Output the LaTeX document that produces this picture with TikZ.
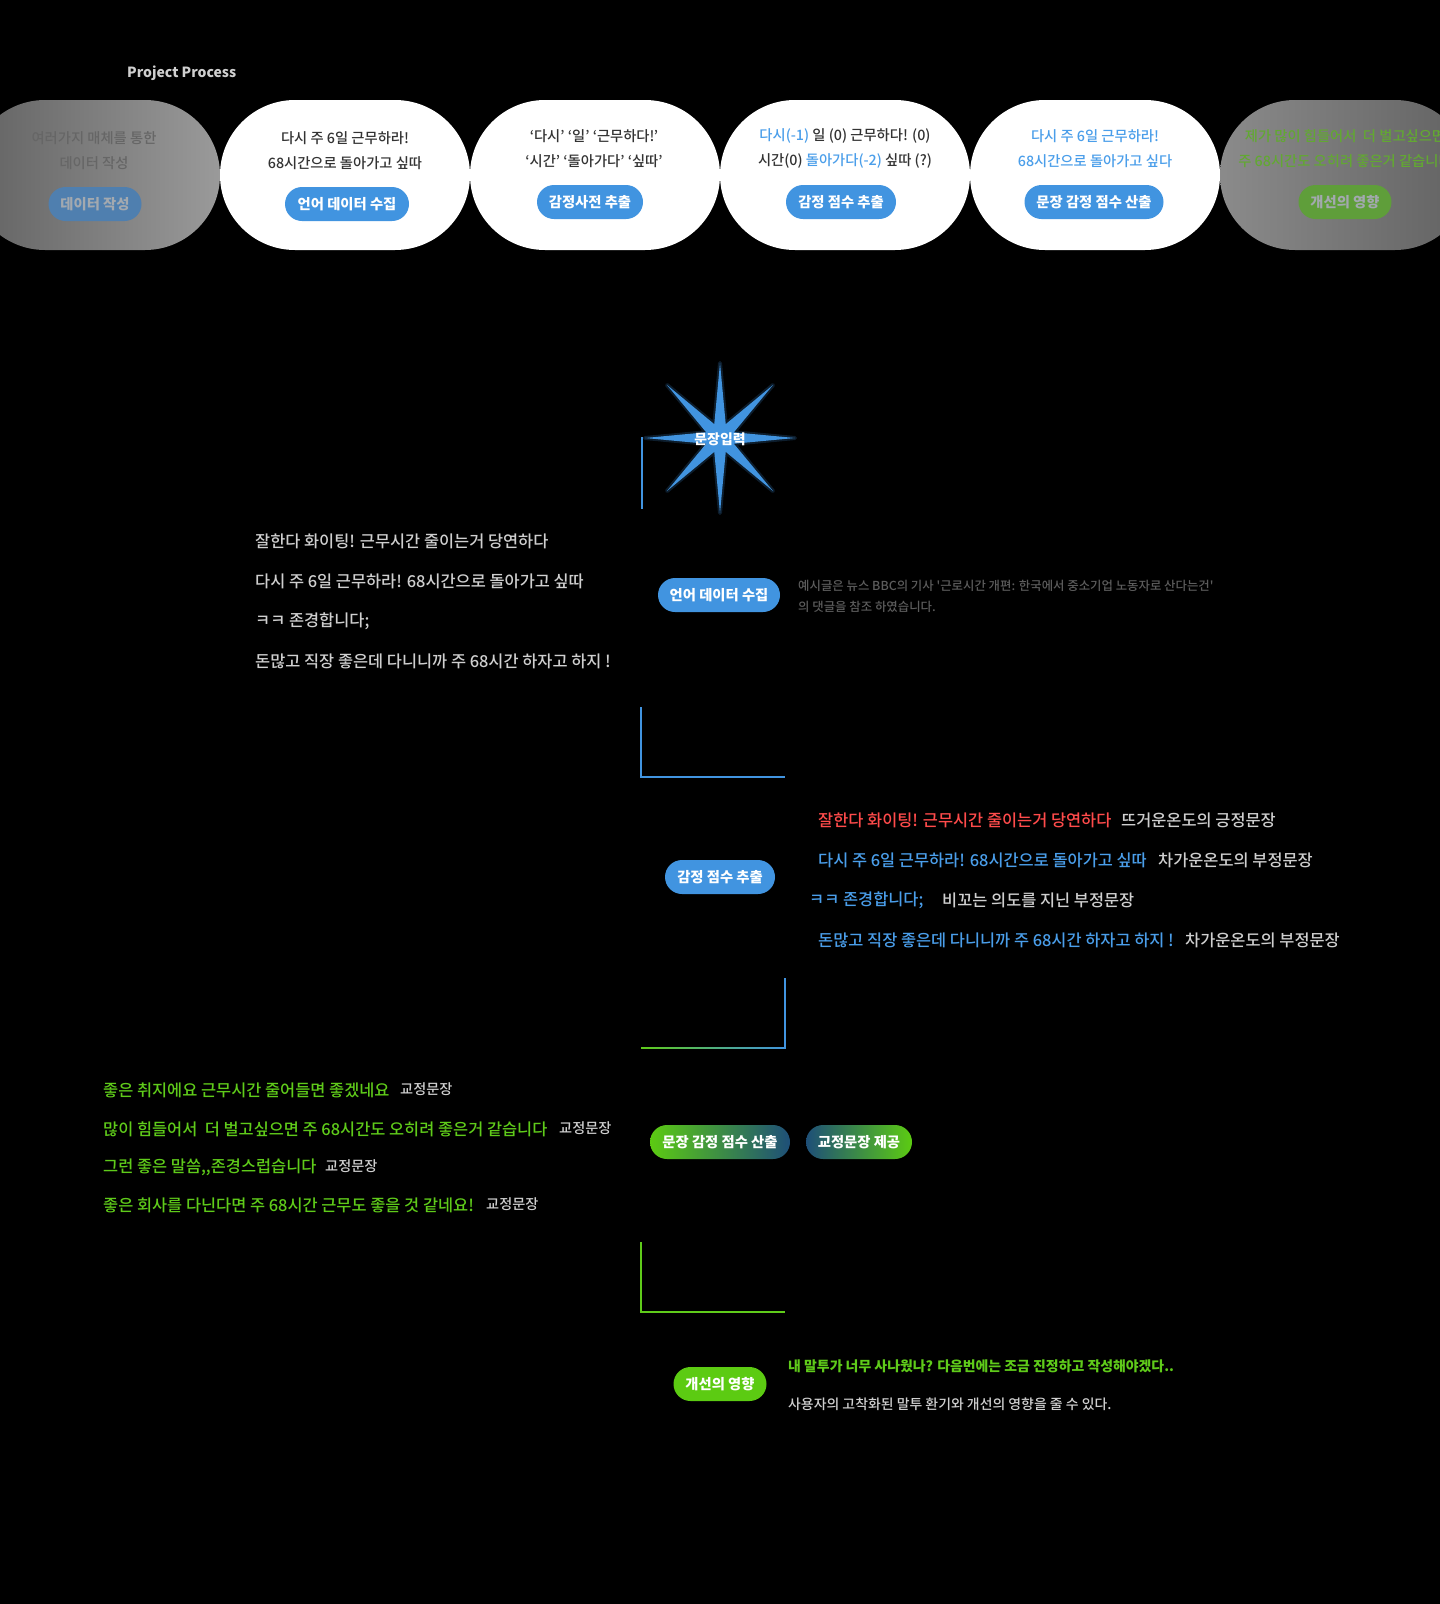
\documentclass[tikz,border=0pt]{standalone}
\usepackage{fontspec}
\setmainfont{Noto Sans CJK KR}
\newfontfamily\mediumfont{Noto Sans CJK KR Medium}
\usetikzlibrary{shapes.geometric}

\definecolor{btnblue}{HTML}{4194E0}
\definecolor{txtblue}{HTML}{4A9EEA}
\definecolor{txtred}{HTML}{FF4B4B}
\definecolor{txtgreen}{HTML}{5FCB1A}
\definecolor{btngreen}{HTML}{5CCB12}
\definecolor{navyend}{HTML}{1E4F78}
\definecolor{softgray}{HTML}{CFCFCF}
\definecolor{notegray}{HTML}{5C5C5C}
\definecolor{darktxt}{HTML}{333333}
\definecolor{fadeA}{HTML}{626262}
\definecolor{fadeB}{HTML}{9A9A9A}
\definecolor{fadetxt}{HTML}{666666}
\definecolor{fadeblue}{HTML}{4F7FAF}
\definecolor{fadegreen}{HTML}{5F9E3A}
\definecolor{fadegreentxt}{HTML}{62A832}
\definecolor{fadebtntxt}{HTML}{A3A9AF}

\begin{document}
\begin{tikzpicture}[x=1pt,y=1pt,yscale=-1,
  pill/.style={rounded corners=75pt, minimum width=250pt, minimum height=150pt, inner sep=0pt},
  btn/.style={rounded corners=17pt, minimum height=34pt, inner sep=0pt, text=white, font=\bfseries\fontsize{14.3}{16}\selectfont},
  pilltext/.style={inner sep=0pt, text=darktxt, font=\mediumfont\fontsize{14.3}{16}\selectfont},
  body/.style={anchor=west, inner sep=0pt, font=\mediumfont\fontsize{16.4}{19}\selectfont},
  tagtext/.style={anchor=west, inner sep=0pt, text=softgray, font=\mediumfont\fontsize{16.4}{19}\selectfont},
  flowline/.style={line width=1.5pt}
]
\useasboundingbox (0,0) rectangle (1440,1604);
\fill[black] (0,0) rectangle (1440,1604);
\clip (0,0) rectangle (1440,1604);

% Title
\node[anchor=west, inner sep=0pt, text=softgray, font=\bfseries\fontsize{14}{16}\selectfont] (title) at (127,73) {Project Process};

%Shape: Pills (process row)
\node[pill, left color=fadeA, right color=fadeB] (source) at (95,175) {};
\node[pill, fill=white] (collect) at (345,175) {};
\node[pill, fill=white] (dict) at (595,175) {};
\node[pill, fill=white] (score) at (845,175) {};
\node[pill, fill=white] (total) at (1095,175) {};
\node[pill, left color=fadeB!90!black, right color=fadeA] (impact) at (1345,175) {};

% Text Node
\node[pilltext, text=fadetxt] (source1) at (94,138) {여러가지 매체를 통한};
\node[pilltext, text=fadetxt] (source2) at (94,163) {데이터 작성};
\node[btn, fill=fadeblue, text=fadebtntxt, minimum width=93pt] (sourcebtn) at (95,204) {데이터 작성};
% Text Node
\node[pilltext] (collect1) at (345,138) {다시 주 6일 근무하라!};
\node[pilltext] (collect2) at (345,163) {68시간으로 돌아가고 싶따};
\node[btn, fill=btnblue, minimum width=124pt] (collectbtn) at (347,204) {언어 데이터 수집};
% Text Node
\node[pilltext] (dict1) at (594,136) {‘다시’ ‘일’ ‘근무하다!’};
\node[pilltext] (dict2) at (594,161) {‘시간’ ‘돌아가다’ ‘싶따’};
\node[btn, fill=btnblue, minimum width=106pt] (dictbtn) at (590,202) {감정사전 추출};
% Text Node
\node[pilltext] (score1) at (845,136) {\textcolor{txtblue}{다시(-1)} 일 (0) 근무하다! (0)};
\node[pilltext] (score2) at (845,161) {시간(0) \textcolor{txtblue}{돌아가다(-2)} 싶따 (?)};
\node[btn, fill=btnblue, minimum width=110pt] (scorebtn) at (841,202) {감정 점수 추출};
% Text Node
\node[pilltext, text=txtblue] (total1) at (1095,136) {다시 주 6일 근무하라!};
\node[pilltext, text=txtblue] (total2) at (1095,161) {68시간으로 돌아가고 싶다};
\node[btn, fill=btnblue, minimum width=139pt] (totalbtn) at (1094,202) {문장 감정 점수 산출};
% Text Node
\node[pilltext, text=fadegreentxt] (impact1) at (1345,136) {제가 많이 힘들어서~ 더 벌고싶으면};
\node[pilltext, text=fadegreentxt] (impact2) at (1345,161) {주 68시간도 오히려 좋은거 같습니다};
\node[btn, fill=fadegreen, text=fadebtntxt, minimum width=93pt] (impactbtn) at (1345,202) {개선의 영향};

%Shape: Star
\node[star, star points=8, star point ratio=5, minimum size=150pt, inner sep=0pt, fill=btnblue,
  preaction={draw=btnblue, line width=4pt, line join=round, draw opacity=0.2}] (input) at (720,438) {};
\node[inner sep=0pt, text=white, font=\bfseries\fontsize{13.9}{15}\selectfont] (inputlabel) at (720,439) {문장입력};
\coordinate (l1end) at (642,509);
\draw[flowline, btnblue] (input.west) -| (l1end);

% Text Node
\node[body, text=softgray] (s1) at (255,541) {잘한다 화이팅! 근무시간 줄이는거 당연하다};
\node[body, text=softgray] (s2) at (255,581) {다시 주 6일 근무하라! 68시간으로 돌아가고 싶따};
\node[body, text=softgray] (s3) at (255,621) {ㅋㅋ 존경합니다;};
\node[body, text=softgray] (s4) at (255,661) {돈많고 직장 좋은데 다니니까 주 68시간 하자고 하지 !};
\node[btn, fill=btnblue, minimum width=122pt] (collectstep) at (719,595) {언어 데이터 수집};
\node[anchor=west, inner sep=0pt, text=notegray, font=\mediumfont\fontsize{12.4}{14}\selectfont] (note1) at (798,586) {예시글은 뉴스 BBC의 기사 '근로시간 개편: 한국에서 중소기업 노동자로 산다는건'};
\node[anchor=west, inner sep=0pt, text=notegray, font=\mediumfont\fontsize{12.4}{14}\selectfont] (note2) at (798,607) {의 댓글을 참조 하였습니다.};

%Straight Lines
\coordinate (l2a) at (641,707);
\coordinate (l2c) at (785,777);
\draw[flowline, btnblue] (l2a) |- (l2c);

% Text Node
\node[btn, fill=btnblue, minimum width=110pt] (scorestep) at (720,877) {감정 점수 추출};
\node[body, text=txtred] (r1) at (818,820) {잘한다 화이팅! 근무시간 줄이는거 당연하다};
\node[tagtext] (r1tag) at (1121,820) {뜨거운온도의 긍정문장};
\node[body, text=txtblue] (r2) at (818,860) {다시 주 6일 근무하라! 68시간으로 돌아가고 싶따};
\node[tagtext] (r2tag) at (1158,860) {차가운온도의 부정문장};
\node[body, text=txtblue] (r3) at (809,900) {ㅋㅋ 존경합니다;};
\node[tagtext] (r3tag) at (942,900) {비꼬는 의도를 지닌 부정문장};
\node[body, text=txtblue] (r4) at (818,940) {돈많고 직장 좋은데 다니니까 주 68시간 하자고 하지 !};
\node[tagtext] (r4tag) at (1185,940) {차가운온도의 부정문장};

%Straight Lines
\coordinate (l3a) at (785,978);
\coordinate (l3b) at (785,1048);
\draw[flowline, btnblue] (l3a) -- (l3b);
\shade[left color=txtgreen, right color=btnblue] (641,1047.25) rectangle (785.75,1048.75);

% Text Node
\node[body, text=txtgreen] (g1) at (103,1090) {좋은 취지에요 근무시간 줄어들면 좋겠네요};
\node[tagtext, font=\mediumfont\fontsize{14.2}{16}\selectfont] (g1tag) at (400,1089) {교정문장};
\node[body, text=txtgreen] (g2) at (103,1129) {많이 힘들어서~ 더 벌고싶으면 주 68시간도 오히려 좋은거 같습니다};
\node[tagtext, font=\mediumfont\fontsize{14.2}{16}\selectfont] (g2tag) at (559,1128) {교정문장};
\node[body, text=txtgreen] (g3) at (103,1167) {그런 좋은 말씀,,존경스럽습니다};
\node[tagtext, font=\mediumfont\fontsize{14.2}{16}\selectfont] (g3tag) at (325,1166) {교정문장};
\node[body, text=txtgreen] (g4) at (103,1205) {좋은 회사를 다닌다면 주 68시간 근무도 좋을 것 같네요!};
\node[tagtext, font=\mediumfont\fontsize{14.2}{16}\selectfont] (g4tag) at (486,1204) {교정문장};
\node[btn, left color=btngreen, right color=navyend, minimum width=140pt] (totalstep) at (720,1142) {문장 감정 점수 산출};
\node[btn, left color=navyend, right color=btngreen, minimum width=106pt] (offerstep) at (859,1142) {교정문장 제공};

%Straight Lines
\coordinate (l4a) at (641,1242);
\coordinate (l4c) at (785,1312);
\draw[flowline, txtgreen] (l4a) |- (l4c);

% Text Node
\node[btn, fill=btngreen, minimum width=93pt] (impactstep) at (720,1384) {개선의 영향};
\node[anchor=west, inner sep=0pt, text=txtgreen, font=\bfseries\fontsize{13.9}{16}\selectfont] (effect1) at (788,1366) {내 말투가 너무 사나웠나? 다음번에는 조금 진정하고 작성해야겠다..};
\node[anchor=west, inner sep=0pt, text=softgray, font=\mediumfont\fontsize{13.9}{16}\selectfont] (effect2) at (788,1404) {사용자의 고착화된 말투 환기와 개선의 영향을 줄 수 있다.};

\end{tikzpicture}
\end{document}
